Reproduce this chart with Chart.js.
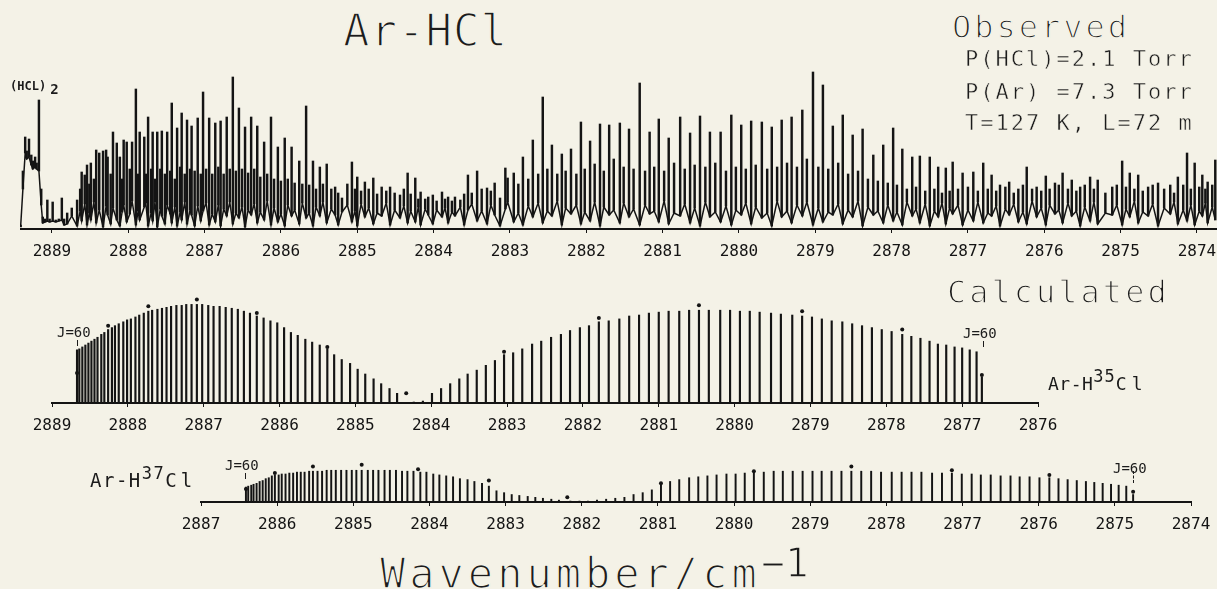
<!DOCTYPE html>
<html>
<head>
<meta charset="utf-8">
<script src="https://cdn.jsdelivr.net/npm/chart.js@4.4.0/dist/chart.umd.min.js"></script>
<style>
  html, body { margin: 0; padding: 0; width: 1217px; height: 589px; overflow: hidden; background: #f4f2e7; }
  canvas { position: absolute; }
  .t { position: absolute; font-family: "DejaVu Sans Mono", monospace; color: #1b1b1b; white-space: pre; line-height: 1; }
  .t sup { vertical-align: baseline; position: relative; }
  .thin { -webkit-text-stroke: 1.5px #f4f2e7; }
  .thin2 { -webkit-text-stroke: 0.5px #f4f2e7; }
  .j { font-size: 14px; }
  .j::after { content: ''; position: absolute; left: 20px; top: 15px; height: 6px; border-left: 1px solid #1b1b1b; }
  .j.dash::after { top: 10px; height: 12px; border-left: 1px dashed #1b1b1b; }
</style>
</head>
<body>

<canvas id="obs" width="1242" height="210" style="left:20px; top:59px"></canvas>
<canvas id="calc35" width="1066" height="160" style="left:12px; top:283px"></canvas>
<canvas id="calc37" width="1070" height="100" style="left:161px; top:442px"></canvas>

<div class="t thin" style="left:343px; top:9px; font-size:44px; letter-spacing:1px">Ar-HCl</div>
<div class="t thin" style="left:952px; top:11px; font-size:32px; letter-spacing:3px">Observed</div>
<div class="t thin2" style="left:965px; top:48px; font-size:22px; letter-spacing:2px">P(HCl)=2.1 Torr</div>
<div class="t thin2" style="left:965px; top:81px; font-size:22px; letter-spacing:2px">P(Ar) =7.3 Torr</div>
<div class="t thin2" style="left:965px; top:112px; font-size:22px; letter-spacing:2px">T=127 K, L=72 m</div>
<div class="t" style="left:10px; top:78px; font-size:12px; font-weight:bold">(HCL)<span style="font-size:14px; position:relative; top:4px; margin-left:4px">2</span></div>

<div class="t thin" style="left:947px; top:276px; font-size:32px; letter-spacing:3px">Calculated</div>
<div class="t j" style="left:57px; top:325px">J=60</div>
<div class="t j" style="left:963px; top:326px">J=60</div>
<div class="t" style="left:1048px; top:375px; font-size:18px; letter-spacing:0.5px">Ar-H<sup style="font-size:17px; top:-8px; letter-spacing:1px">35</sup><span style="letter-spacing:5px">Cl</span></div>

<div class="t" style="left:90px; top:471px; font-size:19px; letter-spacing:1.5px">Ar-H<sup style="font-size:17px; top:-8px">37</sup><span style="letter-spacing:4px">Cl</span></div>
<div class="t j" style="left:225px; top:458px">J=60</div>
<div class="t j dash" style="left:1113px; top:461px">J=60</div>

<div class="t thin" style="left:380px; top:553px; font-size:42px; letter-spacing:4px">Wavenumber/cm<sup style="font-size:40px; top:-11px; letter-spacing:0">−1</sup></div>

<script>
// tick labels of the three wavenumber axes
const obsTicks = [2889, 2888, 2887, 2886, 2885, 2884, 2883, 2882, 2881, 2880, 2879, 2878, 2877, 2876, 2875, 2874];
const calc35Ticks = [2889, 2888, 2887, 2886, 2885, 2884, 2883, 2882, 2881, 2880, 2879, 2878, 2877, 2876];
const calc37Ticks = [2887, 2886, 2885, 2884, 2883, 2882, 2881, 2880, 2879, 2878, 2877, 2876, 2875, 2874];

// observed trace: line position (cm-1), peak top and the noise floor beside it
const obsX = [
  2889.41, 2889.38, 2889.35, 2889.33, 2889.30, 2889.27, 2889.25, 2889.22, 2889.20, 2889.17,
  2889.14, 2889.12, 2889.09, 2889.06, 2889.03, 2888.99, 2888.95, 2888.91, 2888.87, 2888.84,
  2888.80, 2888.74, 2888.67, 2888.63, 2888.61, 2888.57, 2888.54, 2888.51, 2888.49, 2888.45,
  2888.42, 2888.38, 2888.33, 2888.29, 2888.27, 2888.23, 2888.20, 2888.15, 2888.11, 2888.08,
  2888.06, 2888.02, 2887.98, 2887.95, 2887.90, 2887.87, 2887.85, 2887.79, 2887.77, 2887.74,
  2887.70, 2887.68, 2887.65, 2887.62, 2887.58, 2887.56, 2887.52, 2887.49, 2887.45, 2887.43,
  2887.39, 2887.36, 2887.32, 2887.30, 2887.26, 2887.23, 2887.19, 2887.17, 2887.13, 2887.09,
  2887.05, 2887.02, 2886.98, 2886.94, 2886.90, 2886.86, 2886.82, 2886.79, 2886.75, 2886.71,
  2886.67, 2886.63, 2886.59, 2886.55, 2886.51, 2886.47, 2886.43, 2886.39, 2886.35, 2886.31,
  2886.27, 2886.22, 2886.18, 2886.13, 2886.09, 2886.04, 2886.00, 2885.95, 2885.91, 2885.86,
  2885.82, 2885.76, 2885.72, 2885.67, 2885.63, 2885.58, 2885.54, 2885.49, 2885.45, 2885.40,
  2885.34, 2885.29, 2885.25, 2885.20, 2885.13, 2885.07, 2885.03, 2885.00, 2884.95, 2884.90,
  2884.85, 2884.79, 2884.74, 2884.68, 2884.62, 2884.57, 2884.51, 2884.44, 2884.39, 2884.34,
  2884.30, 2884.24, 2884.20, 2884.17, 2884.11, 2884.07, 2884.01, 2883.96, 2883.89, 2883.85,
  2883.81, 2883.76, 2883.72, 2883.65, 2883.60, 2883.55, 2883.50, 2883.43, 2883.37, 2883.30,
  2883.25, 2883.20, 2883.13, 2883.06, 2883.03, 2882.95, 2882.89, 2882.83, 2882.76, 2882.70,
  2882.63, 2882.57, 2882.51, 2882.45, 2882.38, 2882.32, 2882.27, 2882.20, 2882.13, 2882.07,
  2882.02, 2881.95, 2881.89, 2881.82, 2881.77, 2881.70, 2881.64, 2881.56, 2881.51, 2881.44,
  2881.38, 2881.30, 2881.23, 2881.17, 2881.11, 2881.05, 2880.98, 2880.92, 2880.85, 2880.77,
  2880.71, 2880.64, 2880.58, 2880.51, 2880.44, 2880.38, 2880.31, 2880.24, 2880.17, 2880.10,
  2880.04, 2879.97, 2879.91, 2879.84, 2879.78, 2879.70, 2879.63, 2879.57, 2879.50, 2879.44,
  2879.37, 2879.31, 2879.24, 2879.17, 2879.11, 2879.03, 2878.96, 2878.90, 2878.83, 2878.77,
  2878.70, 2878.64, 2878.57, 2878.51, 2878.44, 2878.38, 2878.31, 2878.24, 2878.18, 2878.11,
  2878.05, 2877.98, 2877.93, 2877.86, 2877.80, 2877.73, 2877.68, 2877.63, 2877.56, 2877.50,
  2877.44, 2877.39, 2877.34, 2877.29, 2877.24, 2877.20, 2877.13, 2877.07, 2877.00, 2876.93,
  2876.87, 2876.80, 2876.74, 2876.69, 2876.63, 2876.58, 2876.51, 2876.46, 2876.40, 2876.34,
  2876.28, 2876.23, 2876.16, 2876.10, 2876.04, 2875.98, 2875.93, 2875.86, 2875.81, 2875.76,
  2875.69, 2875.64, 2875.58, 2875.53, 2875.47, 2875.40, 2875.35, 2875.30, 2875.20, 2875.11,
  2875.05, 2874.98, 2874.93, 2874.88, 2874.82, 2874.77, 2874.71, 2874.64, 2874.58, 2874.51,
  2874.43, 2874.35, 2874.30, 2874.25, 2874.18, 2874.13, 2874.08, 2874.03, 2873.97, 2873.93,
  2873.89, 2873.86, 2873.80, 2873.76
];
const obsPeak = [
  4, 58, 92, 78, 90, 74, 68, 72, 66, 129,
  40, 12, 10, 29, 10, 27, 9, 10, 31, 10,
  16, 21, 29, 40, 57, 54, 64, 45, 66, 50,
  79, 76, 78, 79, 72, 55, 97, 86, 72, 50,
  89, 87, 60, 87, 140, 55, 97, 92, 55, 112,
  60, 97, 50, 97, 60, 98, 55, 97, 58, 126,
  50, 101, 62, 116, 55, 109, 60, 103, 58, 111,
  55, 137, 60, 111, 55, 106, 62, 108, 55, 112,
  60, 152, 58, 121, 60, 102, 56, 112, 60, 103,
  52, 87, 55, 112, 50, 82, 48, 91, 50, 82,
  46, 68, 45, 123, 44, 68, 40, 62, 45, 65,
  40, 42, 36, 31, 45, 67, 40, 52, 38, 47,
  40, 51, 35, 42, 38, 42, 36, 34, 40, 56,
  35, 51, 30, 37, 30, 32, 34, 28, 37, 30,
  32, 28, 32, 29, 35, 54, 36, 58, 40, 41,
  38, 46, 31, 61, 51, 56, 45, 72, 50, 89,
  55, 132, 60, 84, 55, 75, 58, 80, 55, 107,
  60, 88, 65, 105, 58, 104, 70, 106, 62, 100,
  60, 146, 58, 97, 62, 110, 58, 91, 66, 112,
  60, 96, 64, 113, 62, 97, 66, 97, 58, 114,
  62, 104, 60, 108, 64, 107, 60, 102, 62, 109,
  66, 112, 62, 119, 70, 157, 62, 144, 60, 103,
  66, 114, 55, 94, 58, 100, 50, 74, 48, 84,
  46, 101, 44, 80, 40, 72, 42, 73, 38, 72,
  40, 62, 36, 61, 38, 67, 40, 56, 42, 57,
  38, 66, 40, 54, 38, 44, 42, 47, 36, 40,
  44, 62, 40, 42, 38, 53, 40, 46, 44, 56,
  40, 49, 38, 42, 44, 52, 40, 49, 36, 42,
  44, 68, 42, 56, 40, 54, 38, 42, 44, 46,
  40, 44, 36, 52, 44, 76, 40, 66, 42, 54,
  40, 47, 44, 69
];
const obsFloor = [
  2, 40, 76, 70, 72, 64, 60, 62, 60, 58,
  24, 6, 7, 8, 7, 8, 7, 8, 9, 4,
  5, 13, 3, 18, 8, 25, 4, 16, 9, 27,
  6, 19, 2, 23, 14, 5, 21, 9, 3, 17,
  24, 7, 15, 28, 4, 18, 9, 22, 26, 3,
  16, 8, 27, 2, 20, 13, 5, 24, 15, 6,
  22, 3, 17, 9, 27, 5, 19, 14, 3, 23,
  8, 18, 26, 4, 15, 7, 24, 3, 20, 13,
  27, 5, 16, 11, 22, 2, 19, 14, 25, 6,
  17, 9, 28, 4, 21, 7, 15, 3, 24, 13,
  19, 5, 26, 11, 16, 3, 22, 13, 27, 6,
  20, 14, 4, 17, 24, 7, 18, 3, 25, 12,
  21, 5, 16, 13, 26, 4, 19, 11, 23, 6,
  18, 7, 22, 4, 20, 14, 5, 19, 12, 21,
  6, 17, 13, 22, 4, 19, 25, 8, 18, 5,
  24, 14, 3, 20, 27, 7, 16, 4, 23, 12,
  26, 6, 18, 13, 28, 4, 21, 15, 24, 5,
  17, 8, 27, 3, 22, 14, 19, 6, 26, 12,
  20, 4, 24, 15, 18, 7, 28, 5, 16, 13,
  25, 6, 21, 3, 27, 12, 17, 7, 23, 4,
  19, 14, 26, 5, 22, 11, 16, 3, 28, 12,
  18, 6, 24, 13, 27, 4, 21, 7, 17, 14,
  25, 5, 19, 12, 28, 3, 22, 14, 18, 6,
  24, 8, 17, 4, 27, 13, 20, 6, 25, 3,
  18, 12, 26, 5, 21, 15, 24, 4, 19, 8,
  27, 6, 16, 13, 23, 3, 20, 14, 25, 7,
  17, 5, 28, 12, 21, 4, 24, 15, 19, 6,
  26, 13, 18, 3, 22, 8, 27, 5, 16, 14,
  24, 4, 20, 12, 28, 6, 17, 13, 25, 3,
  21, 15, 27, 5, 19, 8, 24, 4, 18, 13,
  26, 6, 22, 9
];

// calculated Ar-H35Cl: P branch J=60..1, R branch J=0..60, and the marked points
const p35X = [
  2888.67, 2888.64, 2888.60, 2888.56, 2888.52, 2888.48, 2888.44, 2888.40, 2888.35, 2888.31,
  2888.26, 2888.21, 2888.17, 2888.12, 2888.06, 2888.01, 2887.96, 2887.90, 2887.85, 2887.79,
  2887.73, 2887.68, 2887.61, 2887.55, 2887.49, 2887.43, 2887.36, 2887.29, 2887.23, 2887.16,
  2887.09, 2887.02, 2886.94, 2886.87, 2886.79, 2886.71, 2886.63, 2886.55, 2886.47, 2886.39,
  2886.30, 2886.21, 2886.12, 2886.03, 2885.94, 2885.85, 2885.76, 2885.66, 2885.57, 2885.47,
  2885.37, 2885.28, 2885.18, 2885.07, 2884.97, 2884.87, 2884.76, 2884.66, 2884.55, 2884.45
];
const p35Y = [
  55, 56, 58, 60, 62, 64, 66, 68, 71, 73,
  76, 78, 80, 82, 84, 86, 87, 89, 91, 93,
  95, 96, 97, 98, 99, 100, 101, 101, 102, 102,
  102, 102, 101, 100, 100, 99, 98, 97, 95, 93,
  90, 88, 85, 83, 78, 73, 70, 66, 63, 60,
  56, 50, 45, 41, 35, 30, 25, 20, 15, 10
];
const r35X = [
  2884.23, 2884.11, 2883.99, 2883.87, 2883.75, 2883.63, 2883.52, 2883.40, 2883.28, 2883.16,
  2883.04, 2882.92, 2882.80, 2882.67, 2882.55, 2882.42, 2882.29, 2882.17, 2882.04, 2881.92,
  2881.79, 2881.66, 2881.52, 2881.39, 2881.26, 2881.13, 2881.00, 2880.87, 2880.73, 2880.60,
  2880.47, 2880.34, 2880.19, 2880.06, 2879.93, 2879.80, 2879.67, 2879.52, 2879.39, 2879.24,
  2879.11, 2878.98, 2878.85, 2878.72, 2878.58, 2878.45, 2878.32, 2878.19, 2878.06, 2877.93,
  2877.79, 2877.67, 2877.55, 2877.43, 2877.32, 2877.21, 2877.10, 2877.00, 2876.90, 2876.81,
  2876.74
];
const r35Y = [
  1, 2, 10, 15, 20, 25, 30, 34, 39, 44,
  50, 52, 56, 61, 64, 68, 71, 75, 78, 80,
  84, 85, 87, 90, 91, 93, 94, 95, 95, 96,
  96, 96, 96, 96, 95, 95, 94, 93, 92, 91,
  90, 89, 87, 85, 84, 82, 80, 78, 76, 74,
  71, 69, 67, 64, 61, 60, 58, 57, 55, 53,
  27
];
const dots35X = [2888.67, 2888.26, 2887.73, 2887.09, 2886.30, 2885.37, 2884.33, 2883.04, 2881.79, 2880.47, 2879.11, 2877.79, 2876.74];
const dots35Y = [31, 80, 100, 107, 93, 58, 10, 53, 88, 101, 95, 76, 29];

// calculated Ar-H37Cl
const p37X = [
  2886.41, 2886.38, 2886.34, 2886.31, 2886.27, 2886.23, 2886.19, 2886.15, 2886.11, 2886.07,
  2886.03, 2885.98, 2885.94, 2885.89, 2885.84, 2885.79, 2885.74, 2885.69, 2885.64, 2885.58,
  2885.53, 2885.47, 2885.41, 2885.35, 2885.29, 2885.23, 2885.16, 2885.09, 2885.02, 2884.96,
  2884.89, 2884.81, 2884.74, 2884.67, 2884.59, 2884.52, 2884.44, 2884.36, 2884.29, 2884.21,
  2884.12, 2884.04, 2883.95, 2883.87, 2883.78, 2883.69, 2883.60, 2883.50, 2883.41, 2883.31,
  2883.22, 2883.12, 2883.02, 2882.92, 2882.82, 2882.71, 2882.61, 2882.51, 2882.40, 2882.30
];
const p37Y = [
  16, 17, 18, 19, 20, 22, 23, 25, 26, 28,
  29, 29, 30, 30, 31, 31, 32, 32, 32, 33,
  33, 33, 33, 34, 34, 34, 34, 34, 34, 34,
  34, 34, 34, 34, 34, 34, 34, 33, 33, 33,
  32, 32, 30, 29, 28, 27, 25, 24, 22, 20,
  17, 12, 10, 8, 7, 6, 5, 4, 3, 2
];
const r37X = [
  2882.15, 2882.03, 2881.92, 2881.80, 2881.68, 2881.56, 2881.44, 2881.32, 2881.20, 2881.08,
  2880.96, 2880.84, 2880.72, 2880.59, 2880.47, 2880.35, 2880.23, 2880.10, 2879.98, 2879.86,
  2879.74, 2879.61, 2879.48, 2879.36, 2879.23, 2879.10, 2878.97, 2878.85, 2878.72, 2878.59,
  2878.46, 2878.33, 2878.20, 2878.07, 2877.93, 2877.80, 2877.67, 2877.54, 2877.40, 2877.27,
  2877.14, 2877.01, 2876.88, 2876.76, 2876.63, 2876.50, 2876.37, 2876.25, 2876.12, 2875.99,
  2875.86, 2875.74, 2875.62, 2875.50, 2875.38, 2875.27, 2875.16, 2875.05, 2874.95, 2874.85,
  2874.76
];
const r37Y = [
  1, 1, 1, 2, 3, 4, 5, 8, 10, 13,
  18, 22, 24, 26, 27, 28, 29, 30, 30, 31,
  32, 32, 33, 33, 33, 33, 33, 33, 33, 33,
  33, 33, 33, 32, 32, 32, 32, 32, 31, 31,
  31, 30, 30, 29, 29, 28, 28, 27, 27, 26,
  26, 25, 24, 23, 22, 21, 20, 19, 18, 17,
  8
];
const dots37X = [2886.41, 2886.03, 2885.53, 2884.89, 2884.15, 2883.22, 2882.19, 2880.96, 2879.74, 2878.46, 2877.14, 2875.86, 2874.76];
const dots37Y = [14, 31, 38, 40, 35, 23, 5, 20, 33, 38, 34, 29, 11];

const ink = '#141414';
const pts = (xs, ys) => xs.map((x, i) => ({ x: x, y: ys[i] }));
const spans = (xs, lo, hi) => xs.map((x, i) => ({ x: x, y: [lo[i], hi[i]] }));

function xAxis(tickValues, min, max) {
  return {
    type: 'linear',
    reverse: true,
    min: min,
    max: max,
    offset: false,
    afterBuildTicks: s => { s.ticks = tickValues.map(v => ({ value: v })); },
    afterFit: s => { s.paddingLeft = 0; s.paddingRight = 0; s.height = 40; },
    border: { display: true, color: ink, width: 2 },
    grid: { display: true, drawOnChartArea: false, drawTicks: true, tickLength: 4, color: ink, lineWidth: 1, offset: false },
    ticks: {
      autoSkip: false, maxRotation: 0, minRotation: 0, padding: 9, color: ink,
      font: { family: 'DejaVu Sans Mono', size: 16 },
      callback: v => String(v)
    }
  };
}

function options(tickValues, min, max, ymax, pad) {
  return {
    responsive: false,
    animation: false,
    devicePixelRatio: 1,
    events: [],
    layout: { padding: { left: pad, right: pad, top: 0, bottom: 0 } },
    plugins: { legend: { display: false }, tooltip: { enabled: false } },
    scales: {
      x: xAxis(tickValues, min, max),
      y: { display: false, min: 0, max: ymax }
    }
  };
}

function sticks(xs, ys, w) {
  return { type: 'bar', data: pts(xs, ys), backgroundColor: ink, borderWidth: 0, barThickness: w, grouped: false };
}
function dots(xs, ys) {
  return { type: 'scatter', data: pts(xs, ys), backgroundColor: ink, borderWidth: 0, pointRadius: 2 };
}

new Chart(document.getElementById('obs'), {
  type: 'bar',
  data: {
    datasets: [
      { type: 'bar', data: spans(obsX, obsFloor, obsPeak), backgroundColor: ink, borderWidth: 0, barThickness: 1.8, grouped: false },
      { type: 'line', data: pts(obsX, obsFloor), borderColor: ink, borderWidth: 1.5, pointRadius: 0, tension: 0, fill: false }
    ]
  },
  options: options(obsTicks, 2873.148, 2889.418, 170, 0)
});

new Chart(document.getElementById('calc35'), {
  type: 'bar',
  data: { datasets: [dots(dots35X, dots35Y), sticks(p35X, p35Y, 1.5), sticks(r35X, r35Y, 1.5)] },
  options: options(calc35Ticks, 2876, 2889, 120, 40)
});

new Chart(document.getElementById('calc37'), {
  type: 'bar',
  data: { datasets: [dots(dots37X, dots37Y), sticks(p37X, p37Y, 1.3), sticks(r37X, r37Y, 1.3)] },
  options: options(calc37Ticks, 2874, 2887, 60, 40)
});
</script>
</body>
</html>
